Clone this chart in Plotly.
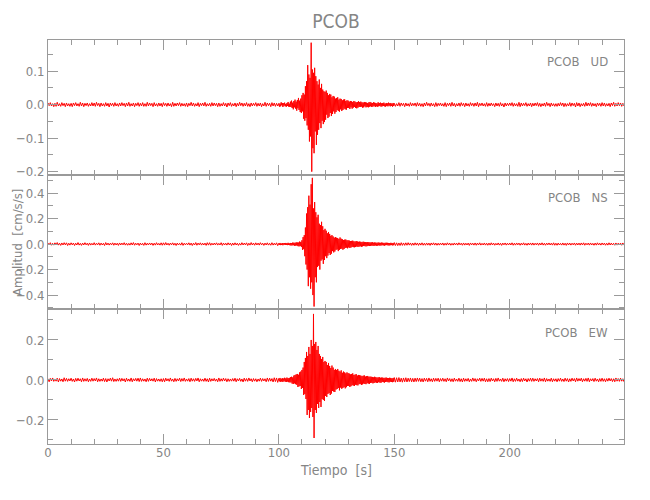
import numpy as np
import plotly.graph_objects as go
from plotly.subplots import make_subplots

# ---------------- data (amplitudes in units of 0.001 cm/s/s) ----------------
seg_start = [0.0, 100.0, 150.0]   # start time of each segment [s]
seg_dt = [0.5, 0.25, 0.5]         # sample spacing of each segment [s]
unit = 0.001

ud_pre = [
    5,-3,6,-4,3,-6,4,-5,7,-4,3,-5,6,-3,4,-6,5,-4,3,-5,
    4,-6,5,-3,6,-4,3,-5,7,-4,5,-6,4,-3,5,-5,3,-4,6,-4,
    5,-5,7,-3,4,-6,5,-4,3,-5,6,-4,4,-7,5,-3,4,-5,6,-4,
    3,-5,5,-4,6,-3,4,-6,5,-4,7,-5,3,-4,5,-6,4,-3,6,-5,
    4,-4,6,-5,3,-5,7,-4,5,-3,4,-6,6,-4,3,-5,5,-4,4,-6,
    6,-3,4,-5,5,-4,3,-6,7,-5,4,-4,5,-3,6,-5,4,-4,3,-5,
    5,-6,4,-3,7,-4,5,-5,3,-4,6,-6,4,-3,5,-4,7,-5,3,-4,
    4,-5,6,-4,5,-3,4,-6,5,-5,3,-4,6,-4,4,-7,5,-3,6,-5,
    3,-4,5,-6,4,-4,7,-3,5,-5,4,-4,6,-5,3,-6,5,-4,4,-3,
    6,-5,4,-4,5,-6,3,-4,7,-5,5,-3,4,-6,6,-4,5,-5,4,-4,
]
ud_event = [
    4,-6,3,-5,7,-2,5,-7,4,-3,6,-5,2,-6,5,-4,8,-6,3,-7,
    9,-7,12,-10,6,-14,11,-8,15,-12,9,-18,14,-11,20,-16,12,-22,18,-25,
    28,-20,35,-42,30,-48,55,-40,70,-62,118,-75,90,-110,80,-95,185,-200,105,-130,
    95,-145,110,-80,85,-120,70,-90,60,-75,75,-55,50,-70,62,-48,45,-58,40,-52,
    38,-45,42,-30,35,-40,28,-36,32,-25,30,-34,22,-28,26,-20,24,-27,18,-22,
    20,-16,22,-19,15,-21,18,-14,17,-19,13,-16,15,-12,16,-14,11,-15,13,-10,
    12,-10,9,-13,11,-8,10,-12,8,-9,11,-7,9,-10,7,-11,8,-9,10,-7,
    8,-7,9,-6,7,-9,6,-8,8,-5,7,-8,6,-7,5,-8,7,-6,8,-5,
    6,-7,5,-6,7,-4,6,-7,5,-5,4,-6,7,-5,5,-4,6,-6,4,-5,
    5,-4,6,-5,3,-6,5,-4,4,-5,6,-3,4,-5,5,-4,3,-6,5,-4,
]
ud_post = [
    4,-5,3,-4,6,-5,5,-3,4,-6,5,-4,3,-5,6,-4,4,-3,5,-5,
    6,-4,4,-5,3,-6,5,-4,7,-3,4,-5,5,-4,3,-6,6,-5,4,-3,
    5,-4,3,-5,6,-6,4,-3,5,-5,7,-4,4,-6,3,-4,5,-5,6,-3,
    4,-6,5,-4,3,-5,6,-3,4,-5,5,-4,7,-6,4,-3,5,-4,3,-5,
    6,-5,4,-4,5,-3,3,-6,5,-4,4,-5,6,-4,3,-7,5,-4,4,-3,
    5,-3,6,-5,4,-4,3,-5,7,-6,5,-4,4,-3,6,-5,3,-4,5,-6,
    4,-4,5,-3,6,-5,4,-6,3,-4,5,-5,7,-3,4,-6,5,-4,3,-5,
    3,-5,4,-4,6,-3,5,-6,4,-5,3,-4,6,-5,5,-3,4,-7,6,-4,
    5,-6,3,-4,4,-5,7,-4,5,-3,6,-5,4,-4,3,-6,5,-3,4,-5,
    6,-4,5,-5,3,-4,4,-6,5,-3,7,-5,4,-4,6,-3,5,-5,4,-4,
]

ns_pre = [
    8,-7,11,-9,6,-8,10,-6,12,-8,7,-10,9,-7,11,-6,10,-11,7,-8,
    10,-6,8,-11,7,-7,12,-8,6,-10,8,-7,11,-6,7,-10,9,-8,6,-7,
    11,-8,7,-6,10,-9,8,-7,6,-11,12,-7,8,-8,7,-6,10,-9,8,-7,
    7,-10,9,-7,8,-6,11,-8,7,-9,6,-8,10,-7,12,-9,7,-6,8,-11,
    8,-7,6,-10,11,-8,7,-7,9,-6,8,-10,7,-8,11,-7,6,-8,10,-9,
    10,-8,12,-7,7,-9,8,-6,10,-8,7,-11,8,-7,6,-8,11,-10,7,-6,
    7,-6,10,-8,8,-11,7,-7,12,-9,8,-6,10,-8,7,-7,8,-10,11,-8,
    11,-9,7,-7,8,-6,10,-8,6,-7,11,-10,8,-7,7,-8,10,-6,8,-11,
    8,-8,10,-7,7,-10,6,-8,11,-7,8,-6,10,-11,7,-8,12,-7,8,-9,
    10,-7,8,-8,11,-6,7,-10,8,-7,10,-8,6,-9,11,-8,7,-7,10,-12,
]
ns_event = [
    7,-6,9,-8,5,-7,8,-9,6,-5,8,-7,9,-6,7,-8,10,-7,6,-9,
    9,-11,8,-10,12,-9,11,-13,10,-12,14,-11,13,-16,12,-18,20,-15,17,-22,
    30,-45,55,-40,70,-95,130,-160,240,-200,290,-330,380,-260,310,-350,470,-300,520,-400,
    280,-490,330,-260,250,-300,210,-180,230,-170,160,-200,150,-130,175,-120,140,-155,110,-125,
    120,-95,105,-110,85,-90,95,-70,80,-85,65,-75,70,-55,60,-65,50,-58,55,-45,
    50,-42,48,-55,40,-45,52,-38,42,-36,38,-44,32,-38,35,-30,36,-28,30,-33,
    30,-26,28,-30,24,-27,25,-22,27,-24,22,-25,20,-23,24,-19,21,-22,18,-20,
    20,-17,18,-21,16,-18,19,-15,17,-16,15,-18,14,-16,16,-13,15,-15,13,-14,
    14,-12,15,-13,11,-14,13,-11,12,-13,10,-12,13,-10,11,-12,10,-11,12,-9,
    11,-10,9,-12,10,-9,11,-8,10,-10,9,-11,8,-9,10,-8,9,-10,8,-9,
]
ns_post = [
    12,-11,10,-12,9,-11,11,-10,9,-10,10,-9,11,-8,9,-10,8,-9,10,-8,
    9,-10,8,-8,10,-9,7,-9,9,-8,8,-10,9,-7,10,-8,8,-9,7,-8,
    8,-7,9,-9,7,-8,10,-7,8,-9,6,-8,9,-7,8,-8,10,-6,7,-9,
    9,-8,7,-7,8,-10,9,-6,7,-8,9,-9,8,-7,10,-8,6,-7,9,-8,
    7,-9,8,-8,10,-7,8,-9,6,-7,9,-8,7,-10,8,-6,9,-8,7,-7,
    8,-7,10,-9,7,-8,9,-6,8,-9,7,-7,10,-8,6,-9,8,-7,9,-8,
    9,-8,7,-6,9,-9,8,-7,10,-8,7,-9,8,-6,9,-7,7,-8,10,-9,
    7,-9,8,-7,6,-8,9,-8,7,-10,9,-7,8,-8,7,-6,9,-9,8,-7,
    8,-8,9,-7,10,-9,7,-6,8,-8,9,-7,6,-9,8,-8,10,-7,7,-8,
    9,-6,8,-9,7,-8,10,-7,8,-7,6,-9,9,-8,7,-7,8,-9,9,-8,
]

ew_pre = [
    6,-9,8,-5,10,-7,5,-6,9,-10,7,-6,5,-9,11,-6,8,-7,6,-5,
    9,-7,5,-10,8,-6,9,-5,6,-9,10,-7,6,-6,8,-9,5,-7,9,-6,
    7,-5,10,-9,6,-7,5,-6,9,-8,7,-10,6,-5,9,-6,11,-8,5,-7,
    6,-6,9,-7,8,-5,6,-10,9,-6,5,-7,10,-9,6,-5,8,-6,9,-8,
    10,-7,6,-6,5,-9,9,-7,8,-5,6,-6,9,-10,7,-6,5,-7,6,-9,
    7,-9,9,-5,6,-7,10,-6,5,-9,8,-7,6,-5,9,-8,7,-6,10,-7,
    5,-6,7,-9,9,-6,6,-7,8,-5,10,-9,6,-6,5,-7,9,-7,6,-10,
    9,-7,6,-5,8,-6,5,-9,10,-7,6,-6,9,-5,7,-9,6,-7,5,-6,
    7,-6,9,-9,6,-5,8,-7,5,-10,9,-6,7,-7,10,-5,6,-9,7,-6,
    6,-9,5,-6,9,-7,7,-5,6,-9,10,-7,9,-6,7,-10,11,-8,10,-12,
]
ew_event = [
    8,-7,10,-9,6,-8,9,-10,7,-6,11,-9,8,-10,12,-8,9,-11,10,-12,
    14,-12,16,-18,13,-20,22,-17,25,-21,28,-24,30,-35,26,-32,38,-30,42,-45,
    50,-40,62,-75,90,-70,110,-95,140,-175,120,-150,165,-190,130,-160,200,-140,170,-185,
    330,-290,180,-150,190,-165,150,-120,170,-140,130,-110,120,-135,105,-95,115,-100,90,-105,
    95,-80,90,-85,75,-70,85,-65,70,-75,60,-68,72,-55,62,-58,50,-60,55,-48,
    50,-45,55,-40,46,-52,42,-38,48,-44,36,-40,42,-35,38,-42,33,-36,38,-30,
    34,-30,32,-35,28,-31,30,-26,33,-28,25,-30,27,-24,29,-26,22,-27,25,-21,
    24,-20,22,-25,19,-22,21,-18,23,-20,17,-21,19,-16,20,-18,16,-19,17,-15,
    16,-14,15,-17,13,-15,16,-12,14,-14,12,-15,13,-11,14,-13,11,-14,12,-10,
    12,-11,10,-13,11,-10,12,-9,10,-11,9,-12,11,-9,10,-10,8,-11,10,-9,
]
ew_post = [
    12,-11,11,-10,12,-10,9,-11,10,-9,11,-10,9,-8,10,-9,8,-10,9,-8,
    10,-7,9,-9,7,-10,9,-6,8,-9,10,-7,6,-9,9,-7,8,-6,9,-9,
    7,-6,9,-7,6,-9,10,-5,7,-8,6,-9,9,-6,5,-7,9,-8,6,-10,
    9,-7,6,-6,8,-9,5,-7,10,-6,7,-9,6,-5,9,-7,8,-6,9,-9,
    6,-9,7,-8,9,-5,6,-9,8,-7,10,-6,5,-7,9,-9,6,-6,7,-8,
    7,-6,10,-9,6,-7,9,-6,5,-9,7,-8,9,-5,6,-10,7,-6,9,-7,
    9,-7,6,-5,7,-9,9,-6,6,-7,10,-9,7,-6,5,-7,9,-9,6,-6,
    6,-9,7,-6,9,-7,5,-8,9,-6,7,-10,6,-7,9,-5,7,-9,10,-6,
    7,-5,9,-9,6,-6,8,-7,10,-9,6,-5,7,-8,9,-6,5,-9,7,-7,
    9,-7,6,-9,7,-6,9,-5,7,-8,6,-9,10,-6,7,-7,9,-6,6,-9,
]

station = "PCOB"
components = ["UD", "NS", "EW"]
traces = [(ud_pre, ud_event, ud_post), (ns_pre, ns_event, ns_post), (ew_pre, ew_event, ew_post)]
y_ranges = [[-0.209, 0.193], [-0.512, 0.545], [-0.32, 0.353]]
y_dticks = [0.1, 0.2, 0.2]
y_minor = [0.05, 0.1, 0.1]
x_range = [0, 249.5]

# ---------------- figure ----------------
GRAY = "#9a9a9a"
TXT = "#858585"
FONT = "Liberation Sans Narrow, DejaVu Sans Condensed, Arial Narrow, sans-serif"

fig = make_subplots(rows=3, cols=1, shared_xaxes=True, vertical_spacing=0)

for i, segs in enumerate(traces):
    t = np.concatenate([s + np.arange(len(seg)) * d for s, d, seg in zip(seg_start, seg_dt, segs)])
    v = np.concatenate([np.array(seg, dtype=float) for seg in segs]) * unit
    fig.add_trace(go.Scatter(x=t, y=v, mode="lines",
                             line=dict(color="#ff0000", width=1),
                             showlegend=False, hoverinfo="skip"),
                  row=i + 1, col=1)

common = dict(showline=True, linecolor=GRAY, linewidth=1, mirror="allticks",
              ticks="inside", ticklen=10, tickcolor=GRAY, tickwidth=1,
              showgrid=False, zeroline=False, automargin=False,
              tickfont=dict(family=FONT, size=13, color=TXT))

for i in range(3):
    fig.update_xaxes(range=x_range, tick0=0, dtick=50,
                     minor=dict(ticks="inside", ticklen=5, tickcolor=GRAY, dtick=10, showgrid=False),
                     row=i + 1, col=1, **common)
    fig.update_yaxes(range=y_ranges[i], tick0=0, dtick=y_dticks[i], tickformat=".1f",
                     minor=dict(ticks="inside", ticklen=5, tickcolor=GRAY, dtick=y_minor[i], showgrid=False),
                     row=i + 1, col=1, **common)
fig.update_xaxes(ticklabelstandoff=-4, row=3, col=1)

label_y = [0.946, 0.611, 0.277]
for i, comp in enumerate(components):
    fig.add_annotation(text=f"{station}&nbsp;&nbsp;&nbsp;{comp}", xref="paper", yref="paper",
                       x=0.975, y=label_y[i], xanchor="right", yanchor="middle",
                       showarrow=False, font=dict(family=FONT, size=13, color=TXT))

fig.add_annotation(text="Amplitud  [cm/s/s]", xref="paper", yref="paper",
                   x=-0.054, y=0.5, textangle=-90, xanchor="center", yanchor="middle",
                   showarrow=False, font=dict(family=FONT, size=13, color=TXT))
fig.add_annotation(text="Tiempo  [s]", xref="paper", yref="paper",
                   x=0.5, y=-0.064, xanchor="center", yanchor="middle",
                   showarrow=False, font=dict(family=FONT, size=14, color=TXT))

fig.update_layout(
    width=642, height=492,
    margin=dict(l=40, r=26, t=32, b=56),
    paper_bgcolor="white", plot_bgcolor="white",
    title=dict(text=station, x=0.5, xref="paper", y=1 - 13 / 492, yref="container",
               xanchor="center", yanchor="middle",
               font=dict(family=FONT, size=19, color=TXT)),
)

fig.write_html("out.html")
